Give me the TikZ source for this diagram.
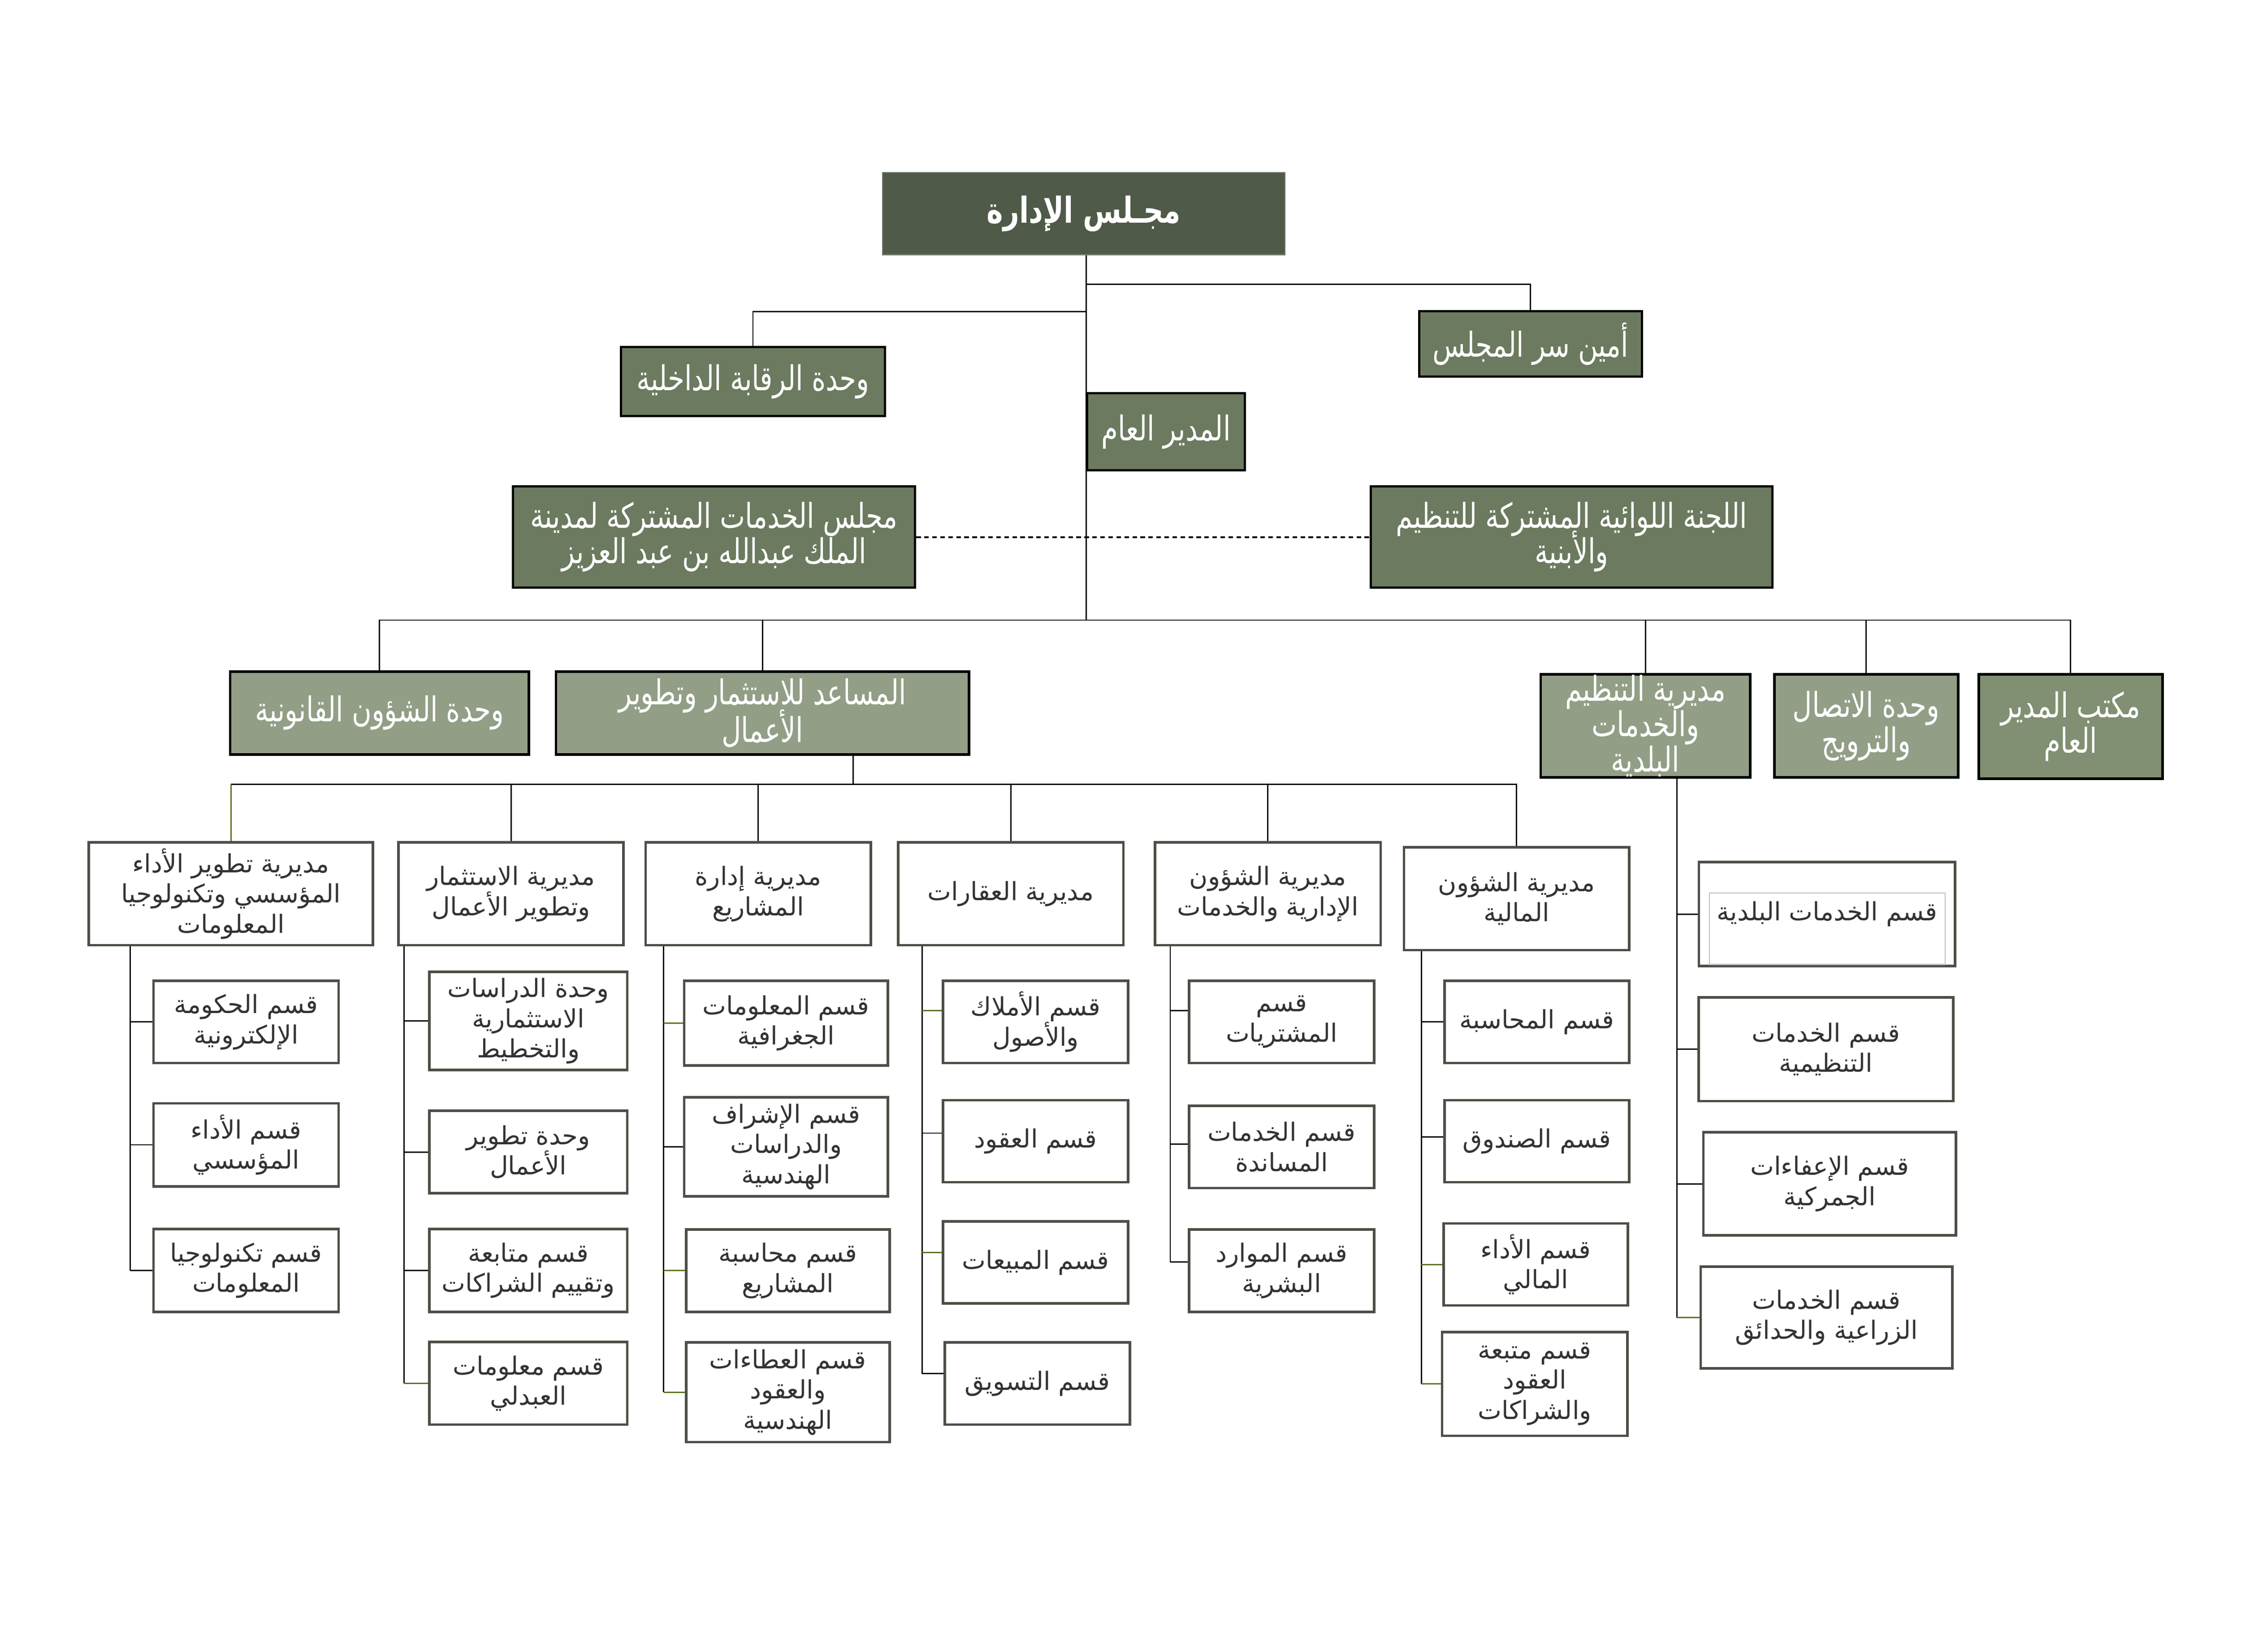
\documentclass[tikz,border=0pt]{standalone}
\usepackage{fontspec}
\usetikzlibrary{fit}
\TeXXeTstate=1
\newfontfamily\arlow[Script=Arabic]{DejaVu Sans}
\newfontfamily\arhigh[Script=Arabic,FakeStretch=0.78]{DejaVu Sans}
\newcommand{\rl}[1]{\beginR #1\endR}
\newcommand{\tightls}{\setlength{\lineskiplimit}{-20pt}}
\definecolor{boardgreen}{HTML}{4F5A48}
\definecolor{midgreen}{HTML}{6C7A60}
\definecolor{lightsage}{HTML}{929E86}
\definecolor{darksage}{HTML}{818F72}
\definecolor{boxedge}{HTML}{4A5045}
\definecolor{lineolive}{HTML}{5B7320}
\definecolor{textgray}{HTML}{333333}
\tikzset{
  conn/.style={draw=black, line width=0.45pt},
  gconn/.style={draw=lineolive, line width=0.45pt},
  dashln/.style={draw=black, line width=0.6pt, dash pattern=on 1.6pt off 1.2pt},
  boardbox/.style={draw=boardgreen!80!white, line width=0.4pt, fill=boardgreen, inner sep=0pt},
  gbox/.style={draw=black, line width=0.8pt, fill=midgreen, inner sep=0pt},
  lbox/.style={draw=black, line width=0.9pt, fill=lightsage, inner sep=0pt},
  dbox/.style={draw=black, line width=0.9pt, fill=darksage, inner sep=0pt},
  wbox/.style={draw=boxedge, line width=0.9pt, fill=white, inner sep=0pt},
  inbox/.style={draw=black!25, line width=0.4pt, inner sep=0pt},
  boardtxt/.style={text=white, font=\arhigh\bfseries\fontsize{12.5}{14}\selectfont, align=center, inner sep=0pt},
  htxt/.style={text=white, font=\arhigh\fontsize{12}{12.4}\selectfont, execute at begin node=\tightls, align=center, inner sep=0pt},
  wtxt/.style={text=textgray, font=\arlow\fontsize{8.8}{10.6}\selectfont, execute at begin node=\tightls, align=center, inner sep=0pt},
}
\newcommand{\obox}[8]{\node[#1, fit={(#3,#4) (#5,#6)}] (#2) {};
  \node[#7] (#2-t) at (#2.center) {#8};}
\begin{document}
\begin{tikzpicture}[x=0.5pt,y=-0.5pt]
\useasboundingbox (0,0) rectangle (1568,1156);
\coordinate (t1) at (760,434);
\coordinate (j1) at (760,199);
\coordinate (j2) at (760,218);
\coordinate (m1) at (597,549);
% ---------- top level ----------
\obox{boardbox}{board}{617.4}{120.8}{899.1}{178.3}{boardtxt}{\rl{مجـلس الإدارة}}
\obox{gbox}{amin}{992.9}{217.7}{1148.8}{263.5}{htxt}{\rl{أمين سر المجلس}}
\obox{gbox}{raqaba}{434.4}{242.8}{619.3}{291.3}{htxt}{\rl{وحدة الرقابة الداخلية}}
\draw[conn] (board.south -| t1) -- (t1);
\draw[conn] (j1) -| (amin.north);
\draw[conn] (j2) -| (raqaba.north);
\obox{gbox}{gm}{760.7}{275.1}{871.1}{329.2}{htxt}{\rl{المدير العام}}
\obox{gbox}{council}{359}{340.5}{640.3}{411.3}{htxt}{\rl{مجلس الخدمات المشتركة لمدينة}\\\rl{الملك عبدالله بن عبد العزيز}}
\obox{gbox}{committee}{959}{340.5}{1240.2}{411.3}{htxt}{\rl{اللجنة اللوائية المشتركة للتنظيم}\\\rl{والأبنية}}
\draw[dashln] (council.east) -- (committee.west);
% ---------- level 3 ----------
\obox{lbox}{qanun}{161}{470}{370}{528}{htxt}{\rl{وحدة الشؤون القانونية}}
\obox{lbox}{musaid}{389}{470}{678}{528}{htxt}{\rl{المساعد للاستثمار وتطوير}\\[0.8pt]\rl{الأعمال}}
\obox{lbox}{tanzim}{1078}{472}{1224.5}{544}{htxt}{\rl{مديرية التنظيم}\\\rl{والخدمات}\\\rl{البلدية}}
\obox{lbox}{ittisal}{1241.5}{472}{1370}{544}{htxt}{\rl{وحدة الاتصال}\\\rl{والترويج}}
\obox{dbox}{maktab}{1384.5}{472}{1513}{545}{htxt}{\rl{مكتب المدير}\\\rl{العام}}
\draw[conn] (t1) -| (qanun.north);
\draw[conn] (t1) -| (musaid.north);
\draw[conn] (t1) -| (tanzim.north);
\draw[conn] (t1) -| (ittisal.north);
\draw[conn] (t1) -| (maktab.north);
% ---------- level 4 ----------
\obox{wbox}{d1}{62.1}{589.6}{261}{661.5}{wtxt}{\rl{مديرية تطوير الأداء}\\\rl{المؤسسي وتكنولوجيا}\\\rl{المعلومات}}
\obox{wbox}{d2}{278.8}{589.6}{436.3}{661.5}{wtxt}{\rl{مديرية الاستثمار}\\\rl{وتطوير الأعمال}}
\obox{wbox}{d3}{451.7}{589.6}{609.3}{661.5}{wtxt}{\rl{مديرية إدارة}\\\rl{المشاريع}}
\obox{wbox}{d4}{628.4}{589.6}{786}{661.5}{wtxt}{\rl{مديرية العقارات}}
\obox{wbox}{d5}{808.2}{589.6}{966}{661.5}{wtxt}{\rl{مديرية الشؤون}\\\rl{الإدارية والخدمات}}
\obox{wbox}{d6}{982.3}{593}{1140}{665}{wtxt}{\rl{مديرية الشؤون}\\\rl{المالية}}
\draw[conn] (musaid.south -| m1) -- (m1);
\draw[conn] (m1) -- (m1 -| d1.north);
\draw[gconn] (m1 -| d1.north) -- (d1.north);
\draw[conn] (m1) -| (d2.north);
\draw[conn] (m1) -| (d3.north);
\draw[conn] (m1) -| (d4.north);
\draw[conn] (m1) -| (d5.north);
\draw[conn] (m1) -| (d6.north);
% ---------- column 1 ----------
\coordinate (s1) at (91,0);
\obox{wbox}{c11}{107.4}{686.5}{236.9}{744}{wtxt}{\rl{قسم الحكومة}\\\rl{الإلكترونية}}
\obox{wbox}{c12}{107.4}{772.2}{236.9}{830.3}{wtxt}{\rl{قسم الأداء}\\\rl{المؤسسي}}
\obox{wbox}{c13}{107.4}{860.2}{236.9}{918.2}{wtxt}{\rl{قسم تكنولوجيا}\\\rl{المعلومات}}
\draw[conn] (d1.south -| s1) -- (s1 |- c13.west);
\draw[conn] (c11.west) -- (c11.west -| s1);
\draw[conn] (c12.west) -- (c12.west -| s1);
\draw[conn] (c13.west) -- (c13.west -| s1);
% ---------- column 2 ----------
\coordinate (s2) at (282.7,0);
\obox{wbox}{c21}{300.4}{680.2}{438.9}{748.9}{wtxt}{\rl{وحدة الدراسات}\\\rl{الاستثمارية}\\\rl{والتخطيط}}
\obox{wbox}{c22}{300.4}{777.4}{438.9}{835.2}{wtxt}{\rl{وحدة تطوير}\\\rl{الأعمال}}
\obox{wbox}{c23}{300.4}{860.2}{438.9}{918.2}{wtxt}{\rl{قسم متابعة}\\\rl{وتقييم الشراكات}}
\obox{wbox}{c24}{300.4}{939.3}{438.9}{997.1}{wtxt}{\rl{قسم معلومات}\\\rl{العبدلي}}
\draw[conn] (d2.south -| s2) -- (s2 |- c24.west);
\draw[conn] (c21.west) -- (c21.west -| s2);
\draw[conn] (c22.west) -- (c22.west -| s2);
\draw[conn] (c23.west) -- (c23.west -| s2);
\draw[gconn] (c24.west) -- (c24.west -| s2);
% ---------- column 3 ----------
\coordinate (s3) at (464.3,0);
\obox{wbox}{c31}{478.7}{686.5}{621.3}{745.8}{wtxt}{\rl{قسم المعلومات}\\\rl{الجغرافية}}
\obox{wbox}{c32}{478.7}{767.9}{621.3}{837.4}{wtxt}{\rl{قسم الإشراف}\\\rl{والدراسات}\\\rl{الهندسية}}
\obox{wbox}{c33}{480}{860.4}{622.5}{918.2}{wtxt}{\rl{قسم محاسبة}\\\rl{المشاريع}}
\obox{wbox}{c34}{480}{939.6}{622.5}{1009.3}{wtxt}{\rl{قسم العطاءات}\\\rl{والعقود}\\\rl{الهندسية}}
\draw[conn] (d3.south -| s3) -- (s3 |- c34.west);
\draw[gconn] (c31.west) -- (c31.west -| s3);
\draw[conn] (c32.west) -- (c32.west -| s3);
\draw[gconn] (c33.west) -- (c33.west -| s3);
\draw[gconn] (c34.west) -- (c34.west -| s3);
% ---------- column 4 ----------
\coordinate (s4) at (645.2,0);
\obox{wbox}{c41}{659.9}{686.5}{789.3}{744}{wtxt}{\rl{قسم الأملاك}\\\rl{والأصول}}
\obox{wbox}{c42}{659.9}{770}{789.3}{827.4}{wtxt}{\rl{قسم العقود}}
\obox{wbox}{c43}{659.9}{854.8}{789.3}{912.3}{wtxt}{\rl{قسم المبيعات}}
\obox{wbox}{c44}{661}{939.6}{790.5}{997.1}{wtxt}{\rl{قسم التسويق}}
\draw[conn] (d4.south -| s4) -- ([yshift=3.5pt]s4 |- c44.west);
\draw[gconn] ([yshift=4pt]c41.west) -- ([yshift=4pt]c41.west -| s4);
\draw[conn] ([yshift=2.8pt]c42.west) -- ([yshift=2.8pt]c42.west -| s4);
\draw[gconn] ([yshift=3.5pt]c43.west) -- ([yshift=3.5pt]c43.west -| s4);
\draw[conn] ([yshift=3.5pt]c44.west) -- ([yshift=3.5pt]c44.west -| s4);
% ---------- column 5 ----------
\coordinate (s5) at (818.8,0);
\obox{wbox}{c51}{832}{686.5}{961.4}{744}{wtxt}{\rl{قسم}\\\rl{المشتريات}}
\obox{wbox}{c52}{832}{774}{961.4}{831.5}{wtxt}{\rl{قسم الخدمات}\\\rl{المساندة}}
\obox{wbox}{c53}{832}{860.4}{961.4}{918.2}{wtxt}{\rl{قسم الموارد}\\\rl{البشرية}}
\draw[conn] (d5.south -| s5) -- ([yshift=3pt]s5 |- c53.west);
\draw[conn] ([yshift=4pt]c51.west) -- ([yshift=4pt]c51.west -| s5);
\draw[conn] ([yshift=1pt]c52.west) -- ([yshift=1pt]c52.west -| s5);
\draw[conn] ([yshift=3pt]c53.west) -- ([yshift=3pt]c53.west -| s5);
% ---------- column 6 ----------
\coordinate (s6) at (994.5,0);
\obox{wbox}{c61}{1010.7}{686.5}{1140}{744}{wtxt}{\rl{قسم المحاسبة}}
\obox{wbox}{c62}{1010.7}{770}{1140}{827.4}{wtxt}{\rl{قسم الصندوق}}
\obox{wbox}{c63}{1010}{856.3}{1139}{913.7}{wtxt}{\rl{قسم الأداء}\\\rl{المالي}}
\obox{wbox}{c64}{1009}{932.4}{1138.6}{1004.9}{wtxt}{\rl{قسم متبعة}\\\rl{العقود}\\\rl{والشراكات}}
\draw[conn] (d6.south -| s6) -- (s6 |- c64.west);
\draw[conn] (c61.west) -- (c61.west -| s6);
\draw[conn] ([yshift=1.5pt]c62.west) -- ([yshift=1.5pt]c62.west -| s6);
\draw[gconn] (c63.west) -- (c63.west -| s6);
\draw[gconn] (c64.west) -- (c64.west -| s6);
% ---------- column 7 ----------
\coordinate (s7) at (1173.3,0);
\node[wbox, fit={(1188.7,603.4) (1368,676.2)}] (c71) {};
\node[inbox, fit={(1196,625) (1361,675)}] (c71in) {};
\node[wtxt] (c71-t) at (c71.center) {\rl{قسم الخدمات البلدية}};
\obox{wbox}{c72}{1188.5}{698}{1366.7}{770.7}{wtxt}{\rl{قسم الخدمات}\\\rl{التنظيمية}}
\obox{wbox}{c73}{1191.8}{792.5}{1368.6}{864.6}{wtxt}{\rl{قسم الإعفاءات}\\\rl{الجمركية}}
\obox{wbox}{c74}{1189.9}{886.6}{1366}{957.8}{wtxt}{\rl{قسم الخدمات}\\\rl{الزراعية والحدائق}}
\draw[conn] (tanzim.south -| s7) -- (s7 |- c74.west);
\draw[conn] (c71.west) -- (c71.west -| s7);
\draw[conn] (c72.west) -- (c72.west -| s7);
\draw[conn] (c73.west) -- (c73.west -| s7);
\draw[gconn] (c74.west) -- (c74.west -| s7);
\end{tikzpicture}
\end{document}
